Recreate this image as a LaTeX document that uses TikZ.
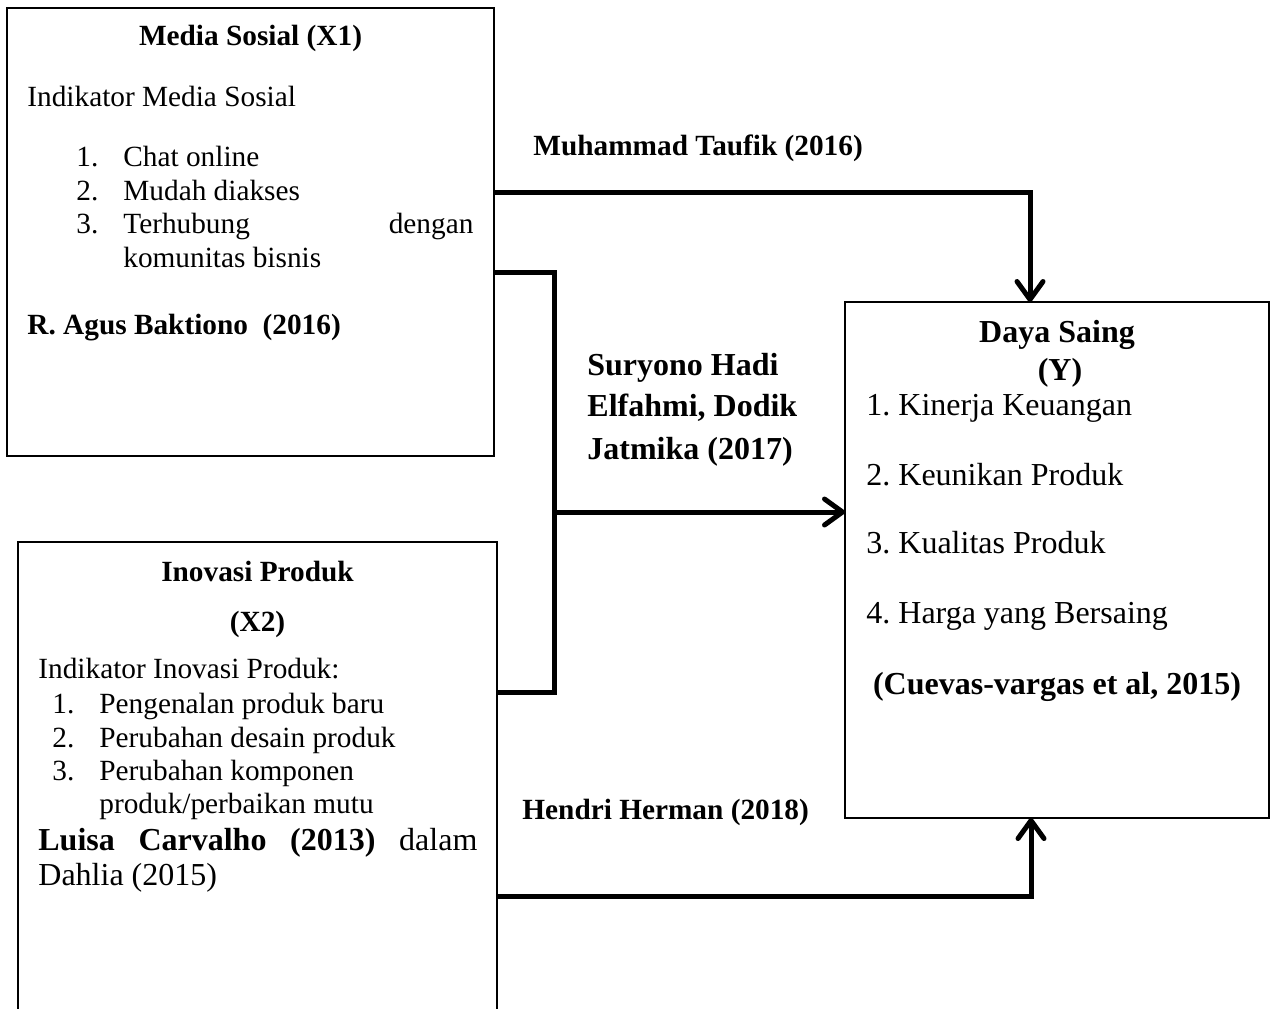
\documentclass[tikz,border=0pt]{standalone}
\usepackage{fontspec}
\setmainfont{Liberation Serif}
\usetikzlibrary{positioning,arrows.meta}
\newcommand\txtA{\fontsize{14.65pt}{16.85pt}\selectfont}
\newcommand\txtB{\fontsize{16pt}{17.5pt}\selectfont}
\tikzset{
    >={Straight Barb[length=9pt,width=13pt,round]},
    varbox/.style = {draw, line width=.75pt, outer sep=0pt, inner sep=0pt},
    link/.style = {line width=2.5pt, ->},
    wire/.style = {line width=2.5pt},
    txt/.style = {anchor=base west, inner sep=0pt, font=\txtA},
    hd/.style = {anchor=base, inner sep=0pt, font=\txtA\bfseries},
}
\begin{document}
\begin{tikzpicture}[x=0.5pt, y=-0.5pt]
    \useasboundingbox (0,0) rectangle (1277,1008);
    \clip (0,0) rectangle (1277,1008);

    % variable boxes
    \node[varbox, minimum width=243.5pt, minimum height=224pt] (medsos) at (250.5,232) {};
    \node[varbox, minimum width=239.5pt, minimum height=249pt] (inovasi) at (257.5,791) {};
    \node[varbox, minimum width=212pt, minimum height=258pt] (daya) at (1057,560) {};

    % Media Sosial (X1)
    \node[hd] (ms-title) at (250.5,45) {Media Sosial (X1)};
    \node[txt] (ms-ind) at (27,106) {Indikator Media Sosial};
    \foreach \n/\y/\t in {1/166/Chat online, 2/200/Mudah diakses,
                          3/233/{\makebox[175pt][s]{Terhubung dengan}}} {
        \node[txt] (ms-n\n) at (76,\y) {\n.};
        \node[txt] (ms-i\n) at (123,\y) {\t};
    }
    \node[txt] (ms-i3b) at (123,267) {komunitas bisnis};
    \node[txt, font=\txtA\bfseries] (ms-src) at (27,334) {R. Agus Baktiono~~(2016)};

    % Inovasi Produk (X2)
    \node[hd] (in-title) at (257.5,581) {Inovasi Produk};
    \node[hd] (in-var) at (257.5,631) {(X2)};
    \node[txt] (in-ind) at (38,678) {Indikator Inovasi Produk:};
    \foreach \n/\y/\t in {1/713/Pengenalan produk baru, 2/747/Perubahan desain produk,
                          3/780/Perubahan komponen} {
        \node[txt] (in-n\n) at (52,\y) {\n.};
        \node[txt] (in-i\n) at (99,\y) {\t};
    }
    \node[txt] (in-i3b) at (99,813) {produk/perbaikan mutu};
    \node[txt, font=\txtB] (in-src) at (38,850)
        {\makebox[219.5pt][s]{\textbf{Luisa Carvalho (2013)} dalam}};
    \node[txt, font=\txtB] (in-src2) at (38,885) {Dahlia (2015)};

    % Daya Saing (Y)
    \node[hd, font=\txtB\bfseries] (ds-title) at (1057,342) {Daya Saing};
    \node[hd, font=\txtB\bfseries] (ds-var) at (1060,380) {(Y)};
    \foreach \n/\y/\t in {1/415/Kinerja Keuangan, 2/485/Keunikan Produk,
                          3/553/Kualitas Produk, 4/623/Harga yang Bersaing} {
        \node[txt, font=\txtB] (ds-i\n) at (866,\y) {\n.\ \t};
    }
    \node[hd, font=\txtB\bfseries] (ds-src) at (1057,694) {(Cuevas-vargas et al, 2015)};

    % connectors
    \coordinate (join) at (554,512);
    \draw[link] (medsos.east |- 0,192) -| (1030,0 |- daya.north);
    \draw[wire] (medsos.east |- 0,272) -| (join) |- (inovasi.east |- 0,692);
    \draw[link] (join) -- (daya.west |- join);
    \draw[link] (inovasi.east |- 0,896) -| (1031,0 |- daya.south);

    % path labels
    \node[txt, font=\txtA\bfseries] (taufik) at (533,155) {Muhammad Taufik (2016)};
    \foreach \n/\y/\t in {1/375.5/Suryono Hadi, 2/416/{Elfahmi, Dodik}, 3/459/Jatmika (2017)} {
        \node[txt, font=\txtB\bfseries] (suryono\n) at (587,\y) {\t};
    }
    \node[txt, font=\txtA\bfseries] (hendri) at (522,819) {Hendri Herman (2018)};
\end{tikzpicture}
\end{document}
